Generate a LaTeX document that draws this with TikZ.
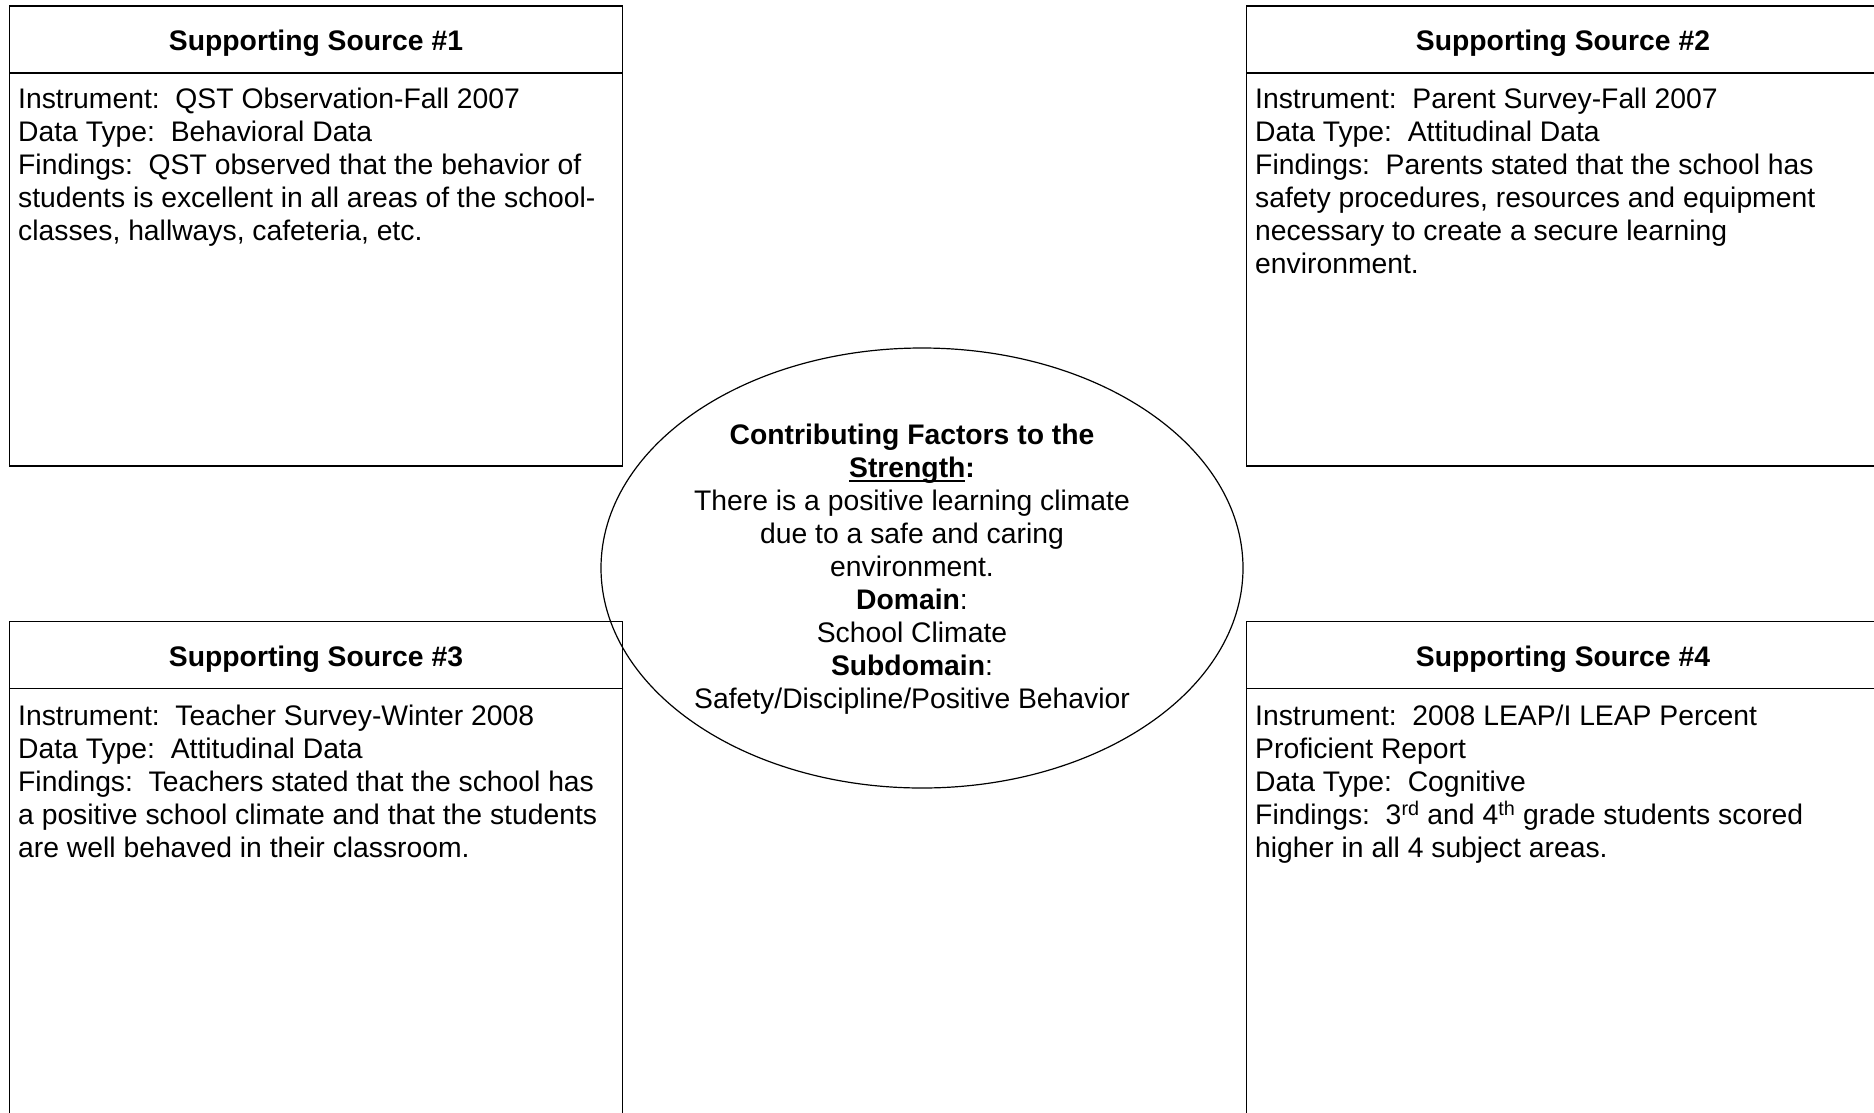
\documentclass[tikz,border=0pt]{standalone}
\usepackage{fontspec}
\setmainfont{Liberation Sans}
% underline with a heavier rule, set a little below the baseline
\newcommand\ulthick[1]{\setbox0\hbox{#1}\rlap{\rule[-4.5pt]{\wd0}{2.2pt}}\box0}
\begin{document}
\begin{tikzpicture}[x=1pt,y=-1pt,
  txt/.style={font=\fontsize{28.3}{33}\selectfont},
  frame/.style={draw, line width=1.2pt, rectangle, inner sep=0pt, outer sep=0pt, anchor=north west},
  head/.style={font=\bfseries\fontsize{28.3}{33}\selectfont, inner sep=0pt},
  body/.style={txt, anchor=north west, align=left, inner sep=0pt},
  divider/.style={line width=1.2pt},
  bubble/.style={draw, line width=1.2pt}]
\useasboundingbox (0,0) rectangle (1874,1112);
\clip (0,0) rectangle (1874,1112);

% four source boxes
\node[frame, minimum width=613pt, minimum height=460pt] (b1) at (9.6,6) {};
\node[frame, minimum width=640pt, minimum height=460pt] (b2) at (1246.6,6) {};
\node[frame, minimum width=613pt, minimum height=520pt] (b3) at (9.6,621.5) {};
\node[frame, minimum width=640pt, minimum height=520pt] (b4) at (1246.6,621.5) {};

% header dividers
\foreach \b in {b1,b2,b3,b4}
  \draw[divider] ([yshift=-67pt]\b.north west) -- ([yshift=-67pt]\b.north east);

% headers
\node[head] (h1) at (316,43.5) {Supporting Source \#1};
\node[head] (h2) at (1563,43.5) {Supporting Source \#2};
\node[head] (h3) at (316,659) {Supporting Source \#3};
\node[head] (h4) at (1563,659) {Supporting Source \#4};

% findings
\node[body] (t1) at (18,88) {Instrument:\ \ QST Observation-Fall 2007\\
Data Type:\ \ Behavioral Data\\
Findings:\ \ QST observed that the behavior of\\
students is excellent in all areas of the school-\\
classes, hallways, cafeteria, etc.};

\node[body] (t2) at (1255,88) {Instrument:\ \ Parent Survey-Fall 2007\\
Data Type:\ \ Attitudinal Data\\
Findings:\ \ Parents stated that the school has\\
safety procedures, resources and equipment\\
necessary to create a secure learning\\
environment.};

\node[body] (t3) at (18,705) {Instrument:\ \ Teacher Survey-Winter 2008\\
Data Type:\ \ Attitudinal Data\\
Findings:\ \ Teachers stated that the school has\\
a positive school climate and that the students\\
are well behaved in their classroom.};

\node[body] (t4) at (1255,705) {Instrument:\ \ 2008 LEAP/I LEAP Percent\\
Proficient Report\\
Data Type:\ \ Cognitive\\
Findings:\ \ 3\textsuperscript{rd} and 4\textsuperscript{th} grade students scored\\
higher in all 4 subject areas.};

% central strength bubble (outline only, box corners show through)
\draw[bubble] (922,568) ellipse [x radius=321, y radius=220];
\node[txt, align=center, inner sep=0pt] (core) at (912,569) {%
\textbf{Contributing Factors to the}\\
\textbf{\ulthick{Strength}:}\\
There is a positive learning climate\\
due to a safe and caring\\
environment.\\
\textbf{Domain}:\\
School Climate\\
\textbf{Subdomain}:\\
Safety/Discipline/Positive Behavior};
\end{tikzpicture}
\end{document}
